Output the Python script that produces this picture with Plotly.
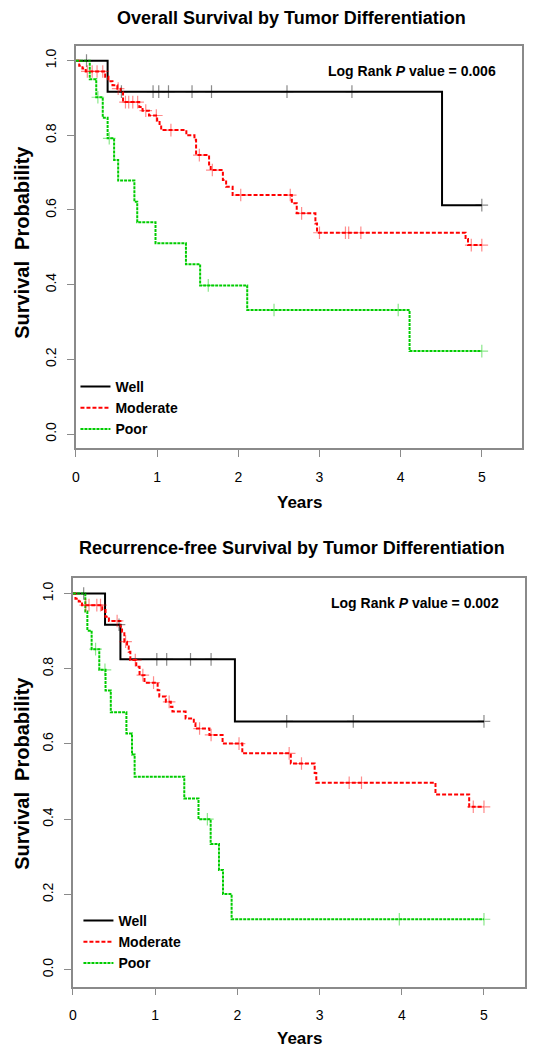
import numpy as np
import plotly.graph_objects as go

# ---------------- DATA ----------------
groups = ["Well", "Moderate", "Poor"]

# Overall survival (top panel): event times and survival after each step
os_well_t = [0.39, 4.51]
os_well_s = [0.917, 0.613]
os_well_c = [0.13, 0.56, 0.95, 1.02, 1.14, 1.43, 1.67, 2.60, 3.40, 5.0]

os_mod_t = [0.04, 0.08, 0.12, 0.36, 0.40, 0.45, 0.51, 0.55, 0.58, 0.78, 0.82, 0.90,
            1.00, 1.03, 1.05, 1.36, 1.46, 1.48, 1.64, 1.66, 1.81, 1.85, 1.93, 2.66,
            2.72, 2.95, 2.97, 4.80, 4.83]
os_mod_s = [0.986, 0.979, 0.971, 0.957, 0.945, 0.934, 0.925, 0.916, 0.889, 0.876, 0.866, 0.853,
            0.840, 0.827, 0.814, 0.800, 0.788, 0.747, 0.722, 0.707, 0.680, 0.662, 0.640, 0.618,
            0.591, 0.564, 0.539, 0.522, 0.506]
os_mod_c = [0.14, 0.20, 0.26, 0.33, 0.52, 0.61, 0.65, 0.70, 0.76, 0.86, 0.99, 1.17,
            1.52, 1.68, 2.03, 2.64, 2.78, 3.00, 3.32, 3.36, 3.51, 4.87, 5.0]

os_poor_t = [0.17, 0.25, 0.33, 0.39, 0.47, 0.52, 0.72, 0.755, 0.98, 1.355, 1.53, 2.11, 4.11]
os_poor_s = [0.950, 0.902, 0.847, 0.792, 0.734, 0.679, 0.622, 0.567, 0.511, 0.455, 0.398, 0.332, 0.222]
os_poor_c = [0.27, 0.41, 1.63, 2.44, 3.97, 5.0]

# Recurrence-free survival (bottom panel)
rfs_well_t = [0.39, 0.577, 1.97]
rfs_well_s = [0.917, 0.825, 0.660]
rfs_well_c = [0.13, 0.56, 1.02, 1.14, 1.43, 1.68, 2.60, 3.41, 5.0]

rfs_mod_t = [0.03, 0.07, 0.11, 0.356, 0.396, 0.437, 0.577, 0.597, 0.625, 0.658, 0.678, 0.698,
             0.77, 0.81, 0.87, 1.03, 1.05, 1.13, 1.19, 1.21, 1.37, 1.47, 1.49, 1.66, 1.82,
             2.06, 2.65, 2.94, 2.96, 4.41, 4.82]
rfs_mod_s = [0.986, 0.979, 0.969, 0.956, 0.938, 0.927, 0.912, 0.898, 0.872, 0.859, 0.845, 0.823,
             0.805, 0.783, 0.763, 0.743, 0.726, 0.712, 0.699, 0.686, 0.668, 0.655, 0.641, 0.624, 0.601,
             0.575, 0.548, 0.523, 0.497, 0.466, 0.433]
rfs_mod_c = [0.155, 0.195, 0.29, 0.335, 0.537, 0.64, 0.758, 0.85, 0.98, 1.17, 1.54, 1.68,
             2.02, 2.63, 2.78, 3.36, 3.51, 4.87, 5.0]

rfs_poor_t = [0.15, 0.175, 0.227, 0.32, 0.396, 0.46, 0.65, 0.718, 0.75, 1.354, 1.527, 1.675,
              1.776, 1.825, 1.93]
rfs_poor_s = [0.952, 0.901, 0.852, 0.797, 0.742, 0.684, 0.628, 0.572, 0.513, 0.455, 0.400, 0.334,
              0.265, 0.201, 0.134]
rfs_poor_c = [0.275, 0.389, 1.635, 3.97, 5.0]

x_ticks = [0, 1, 2, 3, 4, 5]
y_ticks = [0.0, 0.2, 0.4, 0.6, 0.8, 1.0]

titles = ["Overall Survival by Tumor Differentiation",
          "Recurrence-free Survival by Tumor Differentiation"]
pvalues = ["0.006", "0.002"]
x_label = "Years"
y_label = "Survival\u00a0 Probability"

# ---------------- STYLE ----------------
W, H = 535, 1050
colors = {"Well": "#000000", "Moderate": "#FF0000", "Poor": "#00CC00"}
dashes = {"Well": "solid", "Moderate": "4px,2px", "Poor": "3px,1px"}
FONT = "Arial, Liberation Sans, sans-serif"
AXC = "#8a8a8a"

panels = [
    dict(xa="x", ya="y", legend="legend",
         data={"Well": (os_well_t, os_well_s, os_well_c),
               "Moderate": (os_mod_t, os_mod_s, os_mod_c),
               "Poor": (os_poor_t, os_poor_s, os_poor_c)}),
    dict(xa="x2", ya="y2", legend="legend2",
         data={"Well": (rfs_well_t, rfs_well_s, rfs_well_c),
               "Moderate": (rfs_mod_t, rfs_mod_s, rfs_mod_c),
               "Poor": (rfs_poor_t, rfs_poor_s, rfs_poor_c)}),
]

fig = go.Figure()


def step_xy(t, s, cens):
    end = max(cens + t)
    return [0.0] + list(t) + [end], [1.0] + list(s) + [s[-1]]


def censor_y(t, s, cens):
    tt = np.array(t)
    lv = np.array([1.0] + list(s))
    idx = np.searchsorted(tt, np.array(cens), side="right")
    return lv[idx]


for p in panels:
    for g in groups:
        t, s, c = p["data"][g]
        xs, ys = step_xy(t, s, c)
        fig.add_trace(go.Scatter(
            x=xs, y=ys, mode="lines", line_shape="hv", name=g,
            line=dict(color=colors[g], width=2, dash=dashes[g]),
            xaxis=p["xa"], yaxis=p["ya"], legend=p["legend"], hoverinfo="skip"))
    for g in groups:
        t, s, c = p["data"][g]
        fig.add_trace(go.Scatter(
            x=c, y=censor_y(t, s, c), mode="markers", showlegend=False,
            marker=dict(symbol="cross-thin", size=9, opacity=0.45,
                        line=dict(color=colors[g], width=1.2)),
            xaxis=p["xa"], yaxis=p["ya"], hoverinfo="skip"))

# plot region geometry (pixels)
top_px = dict(l=72.5, r=522.3, t=45.7, b=448.2)
bot_px = dict(l=69.5, r=525.0, t=577.7, b=986.6)

axis_common = dict(showline=True, mirror=True, linecolor=AXC, linewidth=1.5,
                   ticks="outside", ticklen=7, tickcolor=AXC, tickwidth=1.2,
                   showgrid=False, zeroline=False,
                   tickfont=dict(family=FONT, size=14, color="black"))

fig.update_layout(
    width=W, height=H, margin=dict(l=0, r=0, t=0, b=0),
    paper_bgcolor="white", plot_bgcolor="white", showlegend=True,
    xaxis=dict(domain=[top_px["l"] / W, top_px["r"] / W], range=[0, 5.5],
               tickvals=x_ticks, ticklabelstandoff=8, anchor="y", **axis_common),
    yaxis=dict(domain=[1 - top_px["b"] / H, 1 - top_px["t"] / H], range=[-0.038, 1.04],
               tickvals=y_ticks, tickformat=".1f", tickangle=-90, ticklabelstandoff=6,
               anchor="x", **axis_common),
    xaxis2=dict(domain=[bot_px["l"] / W, bot_px["r"] / W], range=[0, 5.5],
                tickvals=x_ticks, ticklabelstandoff=8, anchor="y2", **axis_common),
    yaxis2=dict(domain=[1 - bot_px["b"] / H, 1 - bot_px["t"] / H], range=[-0.045, 1.042],
                tickvals=y_ticks, tickformat=".1f", tickangle=-90, ticklabelstandoff=6,
                anchor="x2", **axis_common),
    legend=dict(x=72 / W, y=1 - 371 / H, xanchor="left", yanchor="top",
                bgcolor="rgba(0,0,0,0)", itemwidth=30, tracegroupgap=0,
                font=dict(family=FONT, size=14, color="black", weight="bold")),
    legend2=dict(x=75 / W, y=1 - 905 / H, xanchor="left", yanchor="top",
                 bgcolor="rgba(0,0,0,0)", itemwidth=30, tracegroupgap=0,
                 font=dict(family=FONT, size=14, color="black", weight="bold")),
)

ann = []
title_y = [18, 548]
xlab_y = [502, 1038]
pv_pos = [(411, 70.7), (414, 602.7)]
ylab_y = [242, 773]
for i in range(2):
    box = (top_px, bot_px)[i]
    ann.append(dict(text="<b>" + titles[i] + "</b>", x=290 / W, y=1 - title_y[i] / H,
                    xref="paper", yref="paper", showarrow=False,
                    xanchor="center", yanchor="middle",
                    font=dict(family=FONT, size=18, color="black")))
    ann.append(dict(text="<b>" + x_label + "</b>", x=(box["l"] + box["r"]) / 2 / W,
                    y=1 - xlab_y[i] / H, xref="paper", yref="paper", showarrow=False,
                    xanchor="center", yanchor="middle",
                    font=dict(family=FONT, size=17, color="black")))
    ann.append(dict(text="<b>" + y_label + "</b>", x=18 / W, y=1 - ylab_y[i] / H,
                    xref="paper", yref="paper", showarrow=False, textangle=-90,
                    xanchor="center", yanchor="middle",
                    font=dict(family=FONT, size=20, color="black")))
    ann.append(dict(text="<b>Log Rank <i>P</i> value = " + pvalues[i] + "</b>",
                    x=pv_pos[i][0] / W, y=1 - pv_pos[i][1] / H,
                    xref="paper", yref="paper", showarrow=False,
                    xanchor="center", yanchor="middle",
                    font=dict(family=FONT, size=14, color="black")))
fig.update_layout(annotations=ann)

fig.write_html("out.html", config={"displayModeBar": False},
               post_script="document.body.style.margin='0';document.body.style.padding='0';")
